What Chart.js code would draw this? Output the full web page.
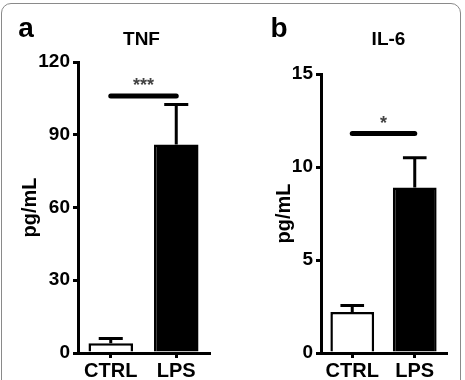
<!DOCTYPE html>
<html>
<head>
<meta charset="utf-8">
<script src="https://cdn.jsdelivr.net/npm/chart.js@4"></script>
<style>
  body { margin: 0; background: #fff; }
  #wrap { position: relative; width: 465px; height: 380px; overflow: hidden; background: #fff; }
  #frame { position: absolute; left: 1px; top: 3px; width: 458px; height: 420px;
           border: 1.5px solid #8a8a8a; border-radius: 10px; }
  #ca { position: absolute; left: 0; top: 0; }
  #cb { position: absolute; left: 232px; top: 0; }
</style>
</head>
<body>
<div id="wrap">
  <div id="frame"></div>
  <canvas id="ca" width="232" height="380"></canvas>
  <canvas id="cb" width="233" height="380"></canvas>
</div>
<script>
// groups
const categories = ['CTRL', 'LPS'];

// panel a - TNF (pg/mL), mean and upper error
const tnfMean = [4, 86];
const tnfErr = [2, 16.5];
const tnfTicks = [0, 30, 60, 90, 120];
const tnfSigLevel = 106;
const tnfStars = '***';

// panel b - IL-6 (pg/mL)
const il6Mean = [2.2, 8.9];
const il6Err = [0.35, 1.6];
const il6Ticks = [0, 5, 10, 15];
const il6SigLevel = 11.8;
const il6Stars = '*';

const FONT = "'Liberation Sans', Arial, sans-serif";

// error bars, significance bar, panel letter and title
const extras = {
  id: 'extras',
  afterDatasetsDraw(chart, args, opts) {
    const ctx = chart.ctx;
    const x = chart.scales.x, y = chart.scales.y;
    const meta = chart.getDatasetMeta(0);
    ctx.save();
    ctx.strokeStyle = '#000';
    ctx.lineWidth = 3;
    opts.mean.forEach((m, i) => {
      const bar = meta.data[i];
      const cx = bar.x;
      const y0 = y.getPixelForValue(m);
      const y1 = y.getPixelForValue(m + opts.err[i]);
      const half = bar.width * 0.27;
      ctx.beginPath();
      ctx.moveTo(cx, y0);
      ctx.lineTo(cx, y1);
      ctx.moveTo(cx - half, y1);
      ctx.lineTo(cx + half, y1);
      ctx.stroke();
    });
    // significance bar
    const sy = y.getPixelForValue(opts.sig);
    ctx.lineWidth = 5;
    ctx.lineCap = 'round';
    ctx.beginPath();
    ctx.moveTo(x.getPixelForValue(0), sy);
    ctx.lineTo(x.getPixelForValue(1), sy);
    ctx.stroke();
    ctx.fillStyle = '#444';
    ctx.font = 'bold 18px ' + FONT;
    ctx.textAlign = 'center';
    ctx.textBaseline = 'alphabetic';
    ctx.fillText(opts.stars, (x.getPixelForValue(0) + x.getPixelForValue(1)) / 2, sy - 5);
    // letter and title
    ctx.fillStyle = '#000';
    ctx.font = 'bold 28px ' + FONT;
    ctx.fillText(opts.letter, opts.letterX, 37);
    ctx.font = 'bold 19px ' + FONT;
    ctx.fillText(opts.title, (chart.chartArea.left + chart.chartArea.right) / 2 + opts.titleShift, 45);
    ctx.restore();
  }
};

function makeChart(id, mean, err, ticks, sig, stars, letter, letterX, title, titleShift, pad, yWidth, titlePad, barPct) {
  return new Chart(document.getElementById(id), {
    type: 'bar',
    data: {
      labels: categories,
      datasets: [{
        data: mean,
        backgroundColor: ['#ffffff', '#000000'],
        borderColor: '#000',
        borderWidth: 2.5,
        borderSkipped: 'bottom',
        barPercentage: barPct,
        categoryPercentage: 1
      }]
    },
    options: {
      responsive: false,
      animation: false,
      layout: { padding: pad },
      plugins: {
        legend: { display: false },
        tooltip: { enabled: false },
        extras: { mean: mean, err: err, sig: sig, stars: stars, letter: letter, letterX: letterX, title: title, titleShift: titleShift }
      },
      scales: {
        x: {
          afterFit(s) { s.height = 27; },
          grid: { drawOnChartArea: false, offset: false, tickLength: 5, lineWidth: 3, color: '#000' },
          border: { color: '#000', width: 3 },
          ticks: { color: '#000', padding: 1, font: { family: FONT, size: 20, weight: 'bold' } }
        },
        y: {
          min: ticks[0],
          max: ticks[ticks.length - 1],
          afterFit(s) { s.width = yWidth; },
          afterBuildTicks(s) { s.ticks = ticks.map(v => ({ value: v })); },
          grid: { drawOnChartArea: false, tickLength: 5, lineWidth: 3, color: '#000' },
          border: { color: '#000', width: 3 },
          ticks: { color: '#000', padding: 3, font: { family: FONT, size: 19, weight: 'bold' } },
          title: { display: true, text: 'pg/mL', color: '#000', padding: { top: titlePad, bottom: 0 },
                   font: { family: FONT, size: 20, weight: 'bold' } }
        }
      }
    },
    plugins: [extras]
  });
}

makeChart('ca', tnfMean, tnfErr, tnfTicks, tnfSigLevel, tnfStars, 'a', 26, 'TNF', -2,
  { top: 62, right: 23, bottom: 0, left: 0 }, 78, 18, 0.68);
makeChart('cb', il6Mean, il6Err, il6Ticks, il6SigLevel, il6Stars, 'b', 47, 'IL-6', 5,
  { top: 74, right: 19, bottom: 0, left: 0 }, 89, 40, 0.7);
</script>
</body>
</html>
